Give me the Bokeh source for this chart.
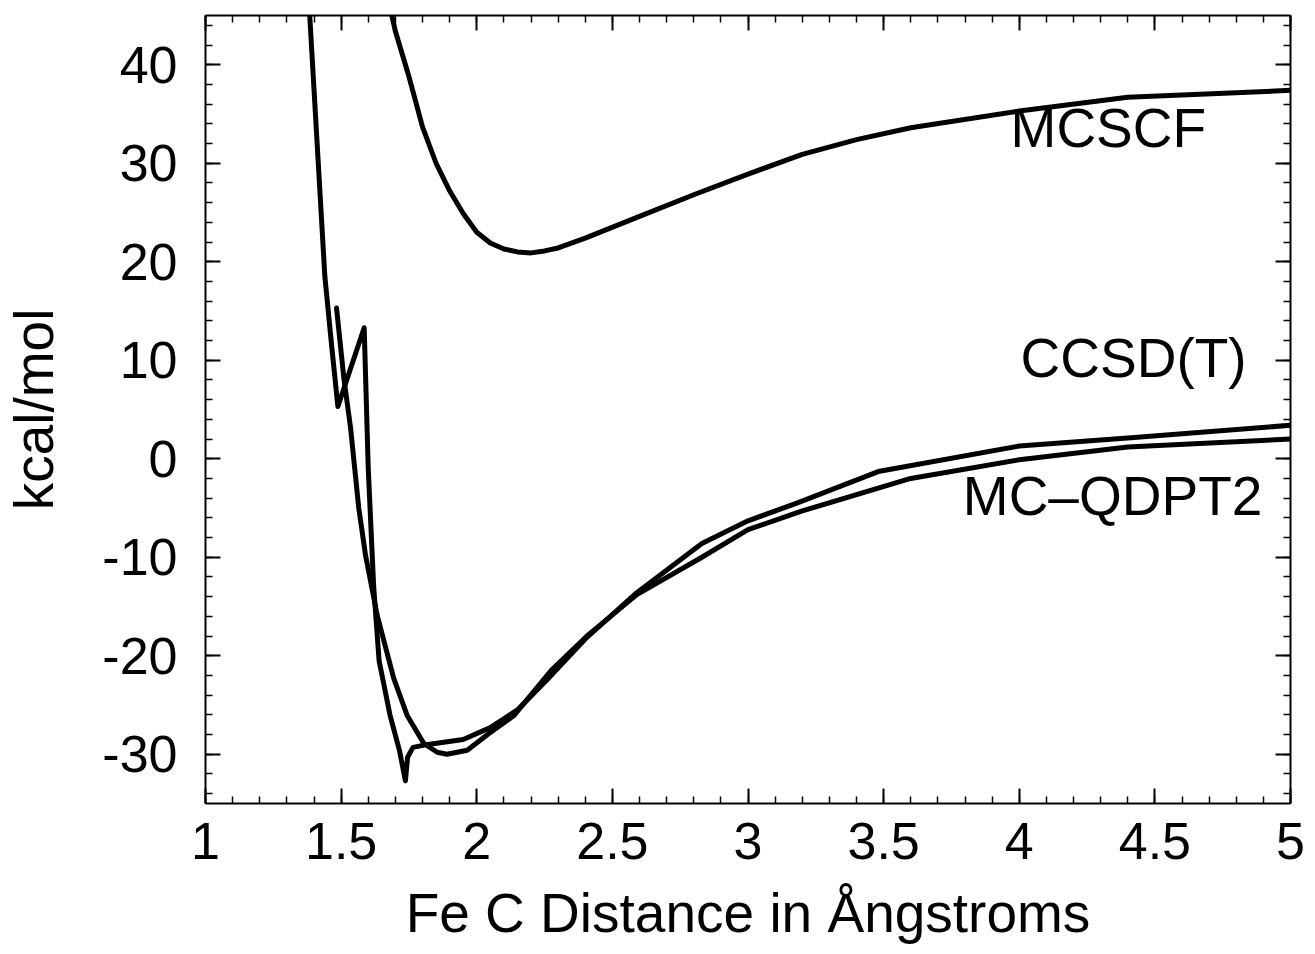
from bokeh.plotting import figure
from bokeh.models import LinearAxis, FixedTicker, Range1d, CustomJSTickFormatter
from bokeh.core.properties import value
from bokeh.embed import file_html
from bokeh.resources import INLINE

# ---- data ----
mcscf_x = [1.65, 1.70, 1.75, 1.80, 1.85, 1.90, 1.95, 2.00, 2.05, 2.10, 2.15, 2.20,
           2.25, 2.30, 2.40, 2.60, 2.80, 3.00, 3.20, 3.40, 3.60, 4.00, 4.40, 5.00]
mcscf_y = [49.5, 43.4, 38.8, 33.7, 30.0, 27.2, 24.9, 23.0, 21.9, 21.3, 21.0, 20.9,
           21.1, 21.4, 22.4, 24.6, 26.8, 28.9, 30.9, 32.4, 33.6, 35.3, 36.7, 37.4]

ccsdt_x = [1.38, 1.44, 1.465, 1.488, 1.585, 1.60, 1.62, 1.64, 1.68, 1.715, 1.737,
           1.745, 1.765, 1.82, 1.95, 2.05, 2.15, 2.26, 2.40, 2.59, 2.83, 3.00,
           3.18, 3.48, 4.00, 4.40, 5.00]
ccsdt_y = [47.0, 18.5, 11.5, 5.3, 13.3, -1.0, -13.0, -20.5, -26.0, -29.6, -32.7,
           -30.3, -29.3, -29.0, -28.5, -27.3, -25.5, -22.4, -18.3, -13.6, -8.6, -6.3,
           -4.5, -1.3, 1.3, 2.1, 3.4]

mcqdpt2_x = [1.483, 1.51, 1.535, 1.565, 1.59, 1.633, 1.694, 1.744, 1.805, 1.854,
             1.89, 1.965, 2.04, 2.136, 2.274, 2.41, 2.59, 2.83, 3.00, 3.20, 3.60,
             4.00, 4.40, 5.00]
mcqdpt2_y = [15.3, 8.2, 3.1, -5.0, -9.8, -15.9, -22.3, -26.1, -28.9, -29.8,
             -30.0, -29.6, -28.0, -26.1, -21.5, -17.9, -13.8, -10.0, -7.2, -5.3, -2.0,
             -0.1, 1.2, 2.0]

series_labels = ["MCSCF", "CCSD(T)", "MC\u2013QDPT2"]
label_x = [3.968, 4.005, 3.792]
label_y = [33.6, 10.2, -3.8]

x_ticks = [1, 1.5, 2, 2.5, 3, 3.5, 4, 4.5, 5]
x_tick_labels = ["1", "1.5", "2", "2.5", "3", "3.5", "4", "4.5", "5"]
y_ticks = [-30, -20, -10, 0, 10, 20, 30, 40]
y_tick_labels = ["-30", "-20", "-10", "0", "10", "20", "30", "40"]

x_title = "Fe C Distance in \u00c5ngstroms"
y_title = "kcal/mol"

FONT = "Liberation Sans"

# ---- figure ----
p = figure(width=1315, height=954, output_backend="svg", toolbar_location=None,
           x_range=Range1d(1, 5), y_range=Range1d(-35, 45),
           min_border_left=204, min_border_right=25, min_border_top=15,
           min_border_bottom=151)
p.grid.visible = False
p.outline_line_color = None
p.background_fill_color = "white"
p.border_fill_color = "white"

x_minor = [round(1 + 0.1 * i, 2) for i in range(41)]
y_minor = [-34 + 2 * i for i in range(40)]

def style_axis(ax, ticks, minor):
    ax.ticker = FixedTicker(ticks=ticks, minor_ticks=minor)
    ax.axis_line_width = 2
    ax.axis_line_color = "black"
    ax.major_tick_in = 15
    ax.major_tick_out = 0
    ax.minor_tick_in = 7
    ax.minor_tick_out = 0
    ax.major_tick_line_width = 2
    ax.minor_tick_line_width = 1.5
    ax.major_tick_line_color = "black"
    ax.minor_tick_line_color = "black"
    ax.major_label_text_font = FONT
    ax.major_label_text_font_size = "52px"
    ax.major_label_text_color = "black"
    ax.axis_label_text_font = FONT
    ax.axis_label_text_font_size = "55px"
    ax.axis_label_text_font_style = "normal"
    ax.axis_label_text_color = "black"

xa = p.xaxis[0]
style_axis(xa, x_ticks, x_minor)
xa.major_label_overrides = {t: s for t, s in zip(x_ticks, x_tick_labels)}
xa.major_label_standoff = 19
xa.axis_label = x_title
xa.axis_label_standoff = 20

ya = p.yaxis[0]
style_axis(ya, y_ticks, y_minor)
ya.major_label_overrides = {t: s for t, s in zip(y_ticks, y_tick_labels)}
ya.major_label_standoff = 28
ya.axis_label = y_title
ya.axis_label_standoff = 34

blank = "return ''"
top = LinearAxis()
style_axis(top, x_ticks, x_minor)
top.formatter = CustomJSTickFormatter(code=blank)
top.major_label_text_font_size = "0px"
top.major_label_standoff = 0
p.add_layout(top, "above")

right = LinearAxis()
style_axis(right, y_ticks, y_minor)
right.formatter = CustomJSTickFormatter(code=blank)
right.major_label_text_font_size = "0px"
right.major_label_standoff = 0
p.add_layout(right, "right")

# ---- curves ----
for xs, ys in [(mcscf_x, mcscf_y), (ccsdt_x, ccsdt_y), (mcqdpt2_x, mcqdpt2_y)]:
    p.line(xs, ys, line_color="black", line_width=5, line_join="round", line_cap="round")

p.text(x=label_x, y=label_y, text=series_labels, text_font=value(FONT),
       text_font_size="55px", text_baseline="middle", text_align="left",
       text_color="black")

open("out.html", "w").write(file_html(p, INLINE))
